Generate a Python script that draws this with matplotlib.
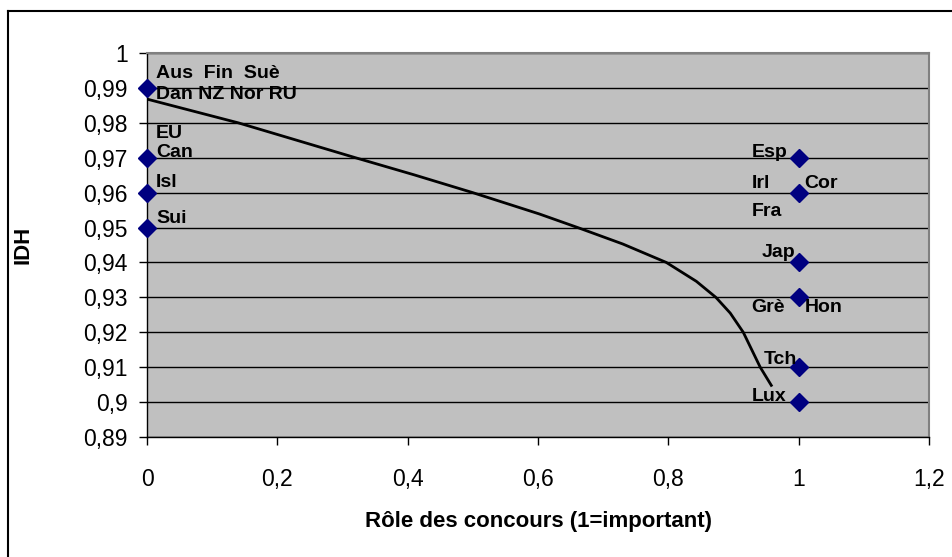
import matplotlib
matplotlib.use('Agg')
import matplotlib.pyplot as plt
from matplotlib.ticker import MultipleLocator, FuncFormatter
from matplotlib.lines import Line2D

plt.rcParams['font.family'] = ['Liberation Sans', 'DejaVu Sans']

# points : role des concours (0/1) vs IDH
pays_x = [0, 0, 0, 0, 1, 1, 1, 1, 1, 1]
pays_idh = [0.99, 0.97, 0.96, 0.95, 0.97, 0.96, 0.94, 0.93, 0.91, 0.90]

# courbe de tendance
tend_x = [0.0, 0.14, 0.32, 0.41, 0.50, 0.602, 0.661, 0.73, 0.797, 0.843,
          0.873, 0.895, 0.915, 0.941, 0.958]
tend_y = [0.9868, 0.980, 0.970, 0.9651, 0.960, 0.9539, 0.950, 0.9453, 0.940, 0.9346,
          0.930, 0.9255, 0.920, 0.910, 0.9048]

# etiquettes : texte, point (x, idh), decalage en pixels
etiq_txt = ['Aus  Fin  Suè', 'Dan NZ Nor RU', 'EU', 'Can', 'Isl', 'Sui',
            'Esp', 'Irl', 'Cor', 'Fra', 'Jap', 'Grè', 'Hon', 'Tch', 'Lux']
etiq_x = [0, 0, 0, 0, 0, 0, 1, 1, 1, 1, 1, 1, 1, 1, 1]
etiq_y = [0.99, 0.99, 0.97, 0.97, 0.96, 0.95,
          0.97, 0.96, 0.96, 0.96, 0.94, 0.93, 0.93, 0.91, 0.90]
etiq_dx = [9, 9, 9, 9, 9, 9, -47, -47, 6, -47, -37, -47, 6, -35, -47]
etiq_dy = [14, -7, 24, 5, 10, 9, 5, 9, 9, -19, 10, -10, -10, 8, 6]

fig = plt.figure(figsize=(9.53, 5.57), dpi=100)
ax = fig.add_axes([0.1543, 0.2154, 0.8205, 0.6894])
ax.set_facecolor('#c0c0c0')

ax.plot(tend_x, tend_y, color='black', lw=2, zorder=3, solid_joinstyle='round')
ax.plot(pays_x, pays_idh, linestyle='none', marker='D', markersize=9.5,
        color='#000080', zorder=4, clip_on=False)

for t, x, y, dx, dy in zip(etiq_txt, etiq_x, etiq_y, etiq_dx, etiq_dy):
    ax.annotate(t, (x, y), xytext=(dx, dy), textcoords='offset pixels',
                ha='left', va='center', fontsize=14, fontweight='bold', zorder=5)

ax.set_xlim(0, 1.2)
ax.set_ylim(0.89, 1.0)
ax.xaxis.set_major_locator(MultipleLocator(0.2))
ax.yaxis.set_major_locator(MultipleLocator(0.01))
fmt = FuncFormatter(lambda v, p: ('%g' % round(v, 2)).replace('.', ','))
ax.xaxis.set_major_formatter(fmt)
ax.yaxis.set_major_formatter(fmt)
ax.tick_params(axis='both', direction='out', length=6, width=1, labelsize=16.5, color='black')
ax.tick_params(axis='x', pad=16)
ax.tick_params(axis='y', pad=8)
ax.yaxis.grid(True, color='black', lw=1)
ax.set_axisbelow(True)

for s in ['top', 'right']:
    ax.spines[s].set_color('#808080')
    ax.spines[s].set_linewidth(1.5)
for s in ['left', 'bottom']:
    ax.spines[s].set_color('black')
    ax.spines[s].set_linewidth(1)

ax.set_xlabel('Rôle des concours (1=important)', fontsize=16, fontweight='bold', labelpad=15)
ax.set_ylabel('IDH', fontsize=16, fontweight='bold', labelpad=36)

# cadre exterieur du graphique (coupe a droite et en bas)
fig.add_artist(Line2D([8 / 953, 8 / 953], [0, 1 - 11 / 557], color='black', lw=1.5,
                      transform=fig.transFigure))
fig.add_artist(Line2D([8 / 953, 1], [1 - 11 / 557, 1 - 11 / 557], color='black', lw=1.5,
                      transform=fig.transFigure))

fig.savefig('out.png', dpi=100)
